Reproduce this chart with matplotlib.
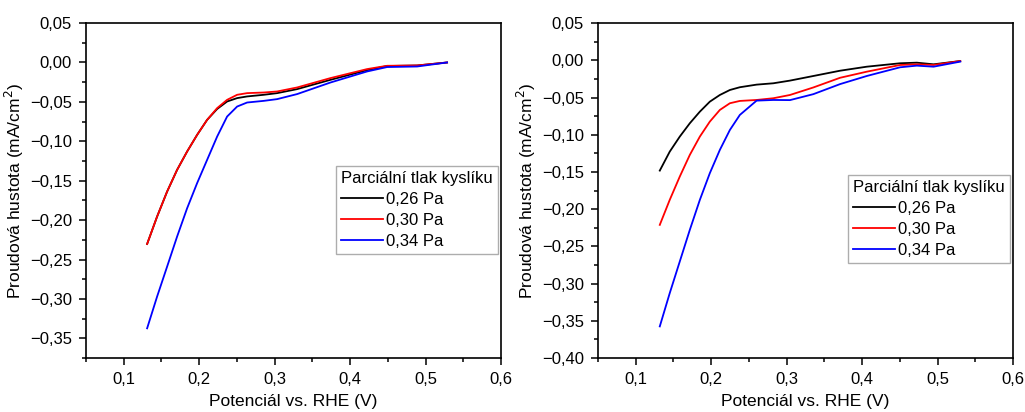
import matplotlib
matplotlib.use("Agg")
import matplotlib.pyplot as plt
from matplotlib.ticker import MultipleLocator, FuncFormatter

plt.rcParams['font.family'] = ['Liberation Sans', 'DejaVu Sans']
plt.rcParams['axes.unicode_minus'] = True

labels = ["0,26 Pa", "0,30 Pa", "0,34 Pa"]
colors = ["#000000", "#ff0000", "#0000ff"]

# Left panel
L_x = [0.131, 0.1442, 0.1575, 0.1707, 0.184, 0.1973, 0.2105, 0.2238, 0.237, 0.2503, 0.2635, 0.2856, 0.3033, 0.3298, 0.374, 0.4225, 0.449, 0.4888, 0.5285]
L_y026 = [-0.2303, -0.1956, -0.1638, -0.1363, -0.113, -0.0918, -0.0728, -0.059, -0.0495, -0.0452, -0.0431, -0.041, -0.0389, -0.0338, -0.022, -0.0097, -0.0045, -0.0038, 0.0]
L_y030 = [-0.2303, -0.1956, -0.1638, -0.1363, -0.113, -0.0918, -0.0728, -0.0579, -0.0474, -0.041, -0.0389, -0.0381, -0.0368, -0.0317, -0.0198, -0.0084, -0.0042, -0.0038, 0.0]
L_y034 = [-0.3373, -0.2971, -0.259, -0.221, -0.185, -0.153, -0.1236, -0.094, -0.0686, -0.0559, -0.0508, -0.0487, -0.0465, -0.0401, -0.0254, -0.0114, -0.0058, -0.0051, 0.0]

# Right panel
R_x = [0.1319, 0.1451, 0.1584, 0.1717, 0.185, 0.1982, 0.2115, 0.2248, 0.238, 0.2602, 0.2823, 0.3044, 0.3354, 0.3708, 0.4062, 0.4504, 0.4725, 0.4947, 0.5301]
R_y026 = [-0.1482, -0.1227, -0.1025, -0.0846, -0.069, -0.0556, -0.0466, -0.0399, -0.0362, -0.0327, -0.0309, -0.0273, -0.0211, -0.014, -0.0086, -0.004, -0.0032, -0.0054, -0.001]
R_y030 = [-0.2211, -0.1875, -0.1562, -0.1271, -0.1025, -0.0824, -0.0667, -0.0577, -0.0546, -0.0533, -0.051, -0.0466, -0.0365, -0.0235, -0.0153, -0.0063, -0.0054, -0.0063, -0.001]
R_y034 = [-0.3575, -0.3128, -0.2703, -0.2278, -0.1875, -0.1517, -0.1204, -0.0936, -0.0734, -0.0542, -0.0533, -0.0535, -0.0455, -0.032, -0.0211, -0.0094, -0.0072, -0.0086, -0.0018]

xticks = [0.1, 0.2, 0.3, 0.4, 0.5, 0.6]
L_yticks = [0.05, 0.0, -0.05, -0.10, -0.15, -0.20, -0.25, -0.30, -0.35]
R_yticks = [0.05, 0.0, -0.05, -0.10, -0.15, -0.20, -0.25, -0.30, -0.35, -0.40]

panels = [
    (L_x, [L_y026, L_y030, L_y034], (-0.375, 0.05), L_yticks, (0.993, 0.572)),
    (R_x, [R_y026, R_y030, R_y034], (-0.40, 0.05), R_yticks, (0.993, 0.546)),
]

fig = plt.figure(figsize=(10.25, 4.12), dpi=100)
positions = [[0.0839, 0.131, 0.4049, 0.813], [0.5834, 0.131, 0.4049, 0.813]]

def fmt_y(v, pos):
    s = f"{v:.2f}".replace(".", ",")
    if s.startswith("-"):
        s = "\u2212" + s[1:]
    if s == "\u22120,00":
        s = "0,00"
    return s

def fmt_x(v, pos):
    return f"{v:.1f}".replace(".", ",")

for (xs, ys_list, ylim, yt, anchor), p in zip(panels, positions):
    ax = fig.add_axes(p)
    for ys, c, lab in zip(ys_list, colors, labels):
        ax.plot(xs, ys, color=c, lw=1.3, label=lab, solid_joinstyle='round')
    ax.set_xlim(0.05, 0.6)
    ax.set_ylim(*ylim)
    ax.set_xticks(xticks)
    ax.set_yticks(yt)
    ax.xaxis.set_minor_locator(MultipleLocator(0.05))
    ax.yaxis.set_minor_locator(MultipleLocator(0.025))
    ax.xaxis.set_major_formatter(FuncFormatter(fmt_x))
    ax.yaxis.set_major_formatter(FuncFormatter(fmt_y))
    ax.tick_params(which='major', direction='out', length=5, width=1.1, labelsize=12, pad=5)
    ax.tick_params(which='minor', direction='out', length=3, width=1.1)
    for s in ax.spines.values():
        s.set_linewidth(1.2)
    ax.set_xlabel("Potenciál vs. RHE (V)", fontsize=12.5, labelpad=5)
    ax.set_ylabel("Proudová hustota (mA/cm$^2$)", fontsize=12.5, labelpad=3)
    leg = ax.legend(title="Parciální tlak kyslíku", loc='upper right', bbox_to_anchor=anchor,
                    fontsize=12, title_fontsize=12, frameon=True, fancybox=False,
                    handlelength=2.5, handletextpad=0.2, borderpad=0.3, labelspacing=0.35,
                    borderaxespad=0.0)
    leg._legend_box.align = "left"
    leg.get_frame().set_edgecolor("#999999")
    leg.get_frame().set_linewidth(1.0)

fig.savefig("out.png", dpi=100)
